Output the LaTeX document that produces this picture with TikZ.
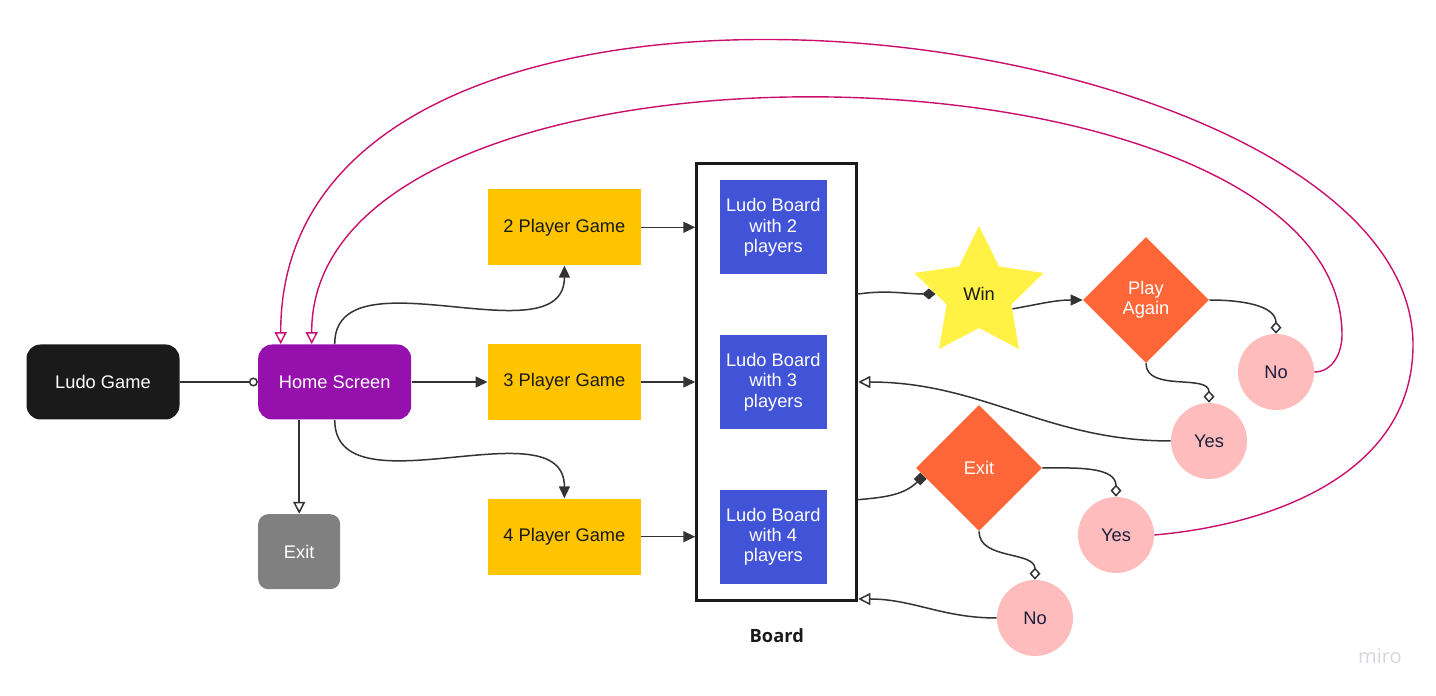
\documentclass[tikz,border=0pt]{standalone}
\usepackage{fontspec}
\setsansfont{Liberation Sans}
\newfontfamily\boardfont{Open Sans}
\usepackage{xcolor}
\definecolor{ludoDark}{HTML}{1A1A1A}
\definecolor{ludoPurple}{HTML}{9510AC}
\definecolor{ludoGray}{HTML}{808080}
\definecolor{ludoYellow}{HTML}{FFC400}
\definecolor{ludoBlue}{HTML}{4153D6}
\definecolor{ludoStar}{HTML}{FFF244}
\definecolor{ludoOrange}{HTML}{FF6638}
\definecolor{ludoPink}{HTML}{FFBCBC}
\definecolor{ludoNavy}{HTML}{1E1E3C}
\definecolor{ludoLine}{HTML}{333333}
\definecolor{ludoMagenta}{HTML}{C8106C}
\usetikzlibrary{shapes.geometric,arrows.meta,positioning,calc}
\tikzset{
    txt/.style={
        font=\sffamily\fontsize{10.4}{11.6}\selectfont,
        align=center
    },
    startbox/.style={
        txt,
        fill=ludoDark,
        text=white,
        rectangle,
        rounded corners=2.8mm,
        minimum width=3.06cm,
        minimum height=1.5cm
    },
    modebox/.style={
        txt,
        fill=ludoYellow,
        text=ludoDark,
        rectangle,
        minimum width=3.06cm,
        minimum height=1.52cm
    },
    boardbox/.style={
        txt,
        fill=ludoBlue,
        text=white,
        rectangle,
        minimum width=2.14cm,
        minimum height=1.88cm
    },
    frame/.style={
        draw=ludoDark,
        line width=1.7pt,
        rectangle,
        minimum width=3.2cm,
        minimum height=8.74cm
    },
    winstar/.style={
        txt,
        fill=ludoStar,
        text=ludoDark,
        star,
        star points=5,
        star point ratio=2,
        minimum size=2.72cm,
        inner sep=0pt
    },
    decision/.style={
        txt,
        fill=ludoOrange,
        text=white,
        diamond,
        aspect=1,
        minimum width=2.52cm,
        minimum height=2.52cm,
        inner sep=0pt
    },
    answer/.style={
        txt,
        fill=ludoPink,
        text=ludoNavy,
        circle,
        minimum size=1.52cm,
        inner sep=0pt
    },
    arrow/.style={
        -{Triangle[length=0.24cm,width=0.22cm]},
        line width=0.85pt,
        color=ludoLine
    },
    openarrow/.style={
        -{Triangle[open,length=0.24cm,width=0.24cm]},
        line width=0.85pt,
        color=ludoLine
    },
    choice/.style={
        -{Diamond[open,length=0.24cm,width=0.22cm]},
        line width=0.85pt,
        color=ludoLine
    },
    backline/.style={
        -{Triangle[open,length=0.24cm,width=0.24cm]},
        line width=0.8pt,
        color=ludoMagenta
    }
}

\begin{document}
\begin{tikzpicture}[node distance=1.5cm]
    \useasboundingbox (0,0) rectangle (28.72,13.92);

    % Start and home screen
    \node[startbox] (ludo) at (2.06,6.28) {Ludo Game};
    \node[startbox, fill=ludoPurple, right=1.56cm of ludo] (home) {Home Screen};
    \node[startbox, fill=ludoGray, rounded corners=2mm, minimum width=1.64cm,
          below=1.88cm of home.south west, anchor=north west] (quit) {Exit};

    % Game modes
    \node[modebox, right=1.52cm of home] (three) {3 Player Game};
    \node[modebox, above=1.56cm of three] (two) {2 Player Game};
    \node[modebox, below=1.56cm of three] (four) {4 Player Game};

    % Board
    \node[frame, right=1.08cm of three] (board) {};
    \node[boardbox] (bthree) at ([xshift=-0.07cm]board.center) {Ludo Board\\with 3\\players};
    \node[boardbox, above=1.2cm of bthree] (btwo) {Ludo Board\\with 2\\players};
    \node[boardbox, below=1.2cm of bthree] (bfour) {Ludo Board\\with 4\\players};
    \node[font=\boardfont\bfseries\fontsize{10.4}{12}\selectfont, text=ludoDark,
          below=0.4cm of board] (boardlabel) {Board};

    % End of game
    \node[winstar] (win) at (19.58,8.04) {Win};
    \node[decision] (again) at (22.92,7.92) {Play\\Again};
    \node[decision] (leave) at (19.58,4.56) {Exit};
    \node[answer] (againno) at (25.52,6.48) {No};
    \node[answer] (againyes) at (24.18,5.10) {Yes};
    \node[answer] (leaveyes) at (22.32,3.22) {Yes};
    \node[answer] (leaveno) at (20.70,1.56) {No};

    % Watermark
    \node[font=\boardfont\fontsize{11.4}{12}\selectfont, text=ludoNavy!18] (miro) at (27.6,0.8) {miro};

    % Arrows
    \draw[arrow, -{Circle[open,length=0.18cm]}] (ludo) -- (home);
    \draw[arrow] (home) -- (three);
    \draw[arrow] (home.north) to[out=90,in=-90] (two.south);
    \draw[arrow] (home.south) to[out=-90,in=90] (four.north);
    \draw[openarrow] (quit.north |- home.south) -- (quit.north);
    \draw[arrow] (two) -- (two -| board.west);
    \draw[arrow] (three) -- (three -| board.west);
    \draw[arrow] (four) -- (four -| board.west);

    \draw[arrow, -{Diamond[length=0.26cm,width=0.22cm]}] (board.east |- win) to[out=8,in=180] (win);
    \draw[arrow] (win.-24) to[out=10,in=180] (again);
    \draw[arrow, -{Square[length=0.18cm,width=0.18cm]}] (board.east |- leave.south west) to[out=5,in=225] (leave.188);

    \draw[choice] (again.east) to[out=0,in=90] (againno.north);
    \draw[choice] (again.south) to[out=-90,in=90] (againyes.north);
    \draw[choice] (leave.east) to[out=0,in=90] (leaveyes.north);
    \draw[choice] (leave.south) to[out=-90,in=90] (leaveno.north);

    \draw[openarrow] (againyes.west) to[out=180,in=0] (board.east);
    \draw[openarrow] (leaveno.west) to[out=180,in=0] ([yshift=0.06cm]board.south east);

    % Back to home screen
    \coordinate (innerturn) at (26.84,7.22);
    \coordinate (outerturn) at (28.26,7.02);
    \draw[backline] (againno.east) to[out=0,in=-90] (innerturn)
        .. controls (26.84,13.32) and (6.22,13.8) .. ([xshift=-0.46cm]home.north);
    \draw[backline] (leaveyes.east) to[out=5,in=-90] (outerturn)
        .. controls (28.26,13.62) and (5.6,16.48) .. ([xshift=-1.08cm]home.north);
\end{tikzpicture}
\end{document}
